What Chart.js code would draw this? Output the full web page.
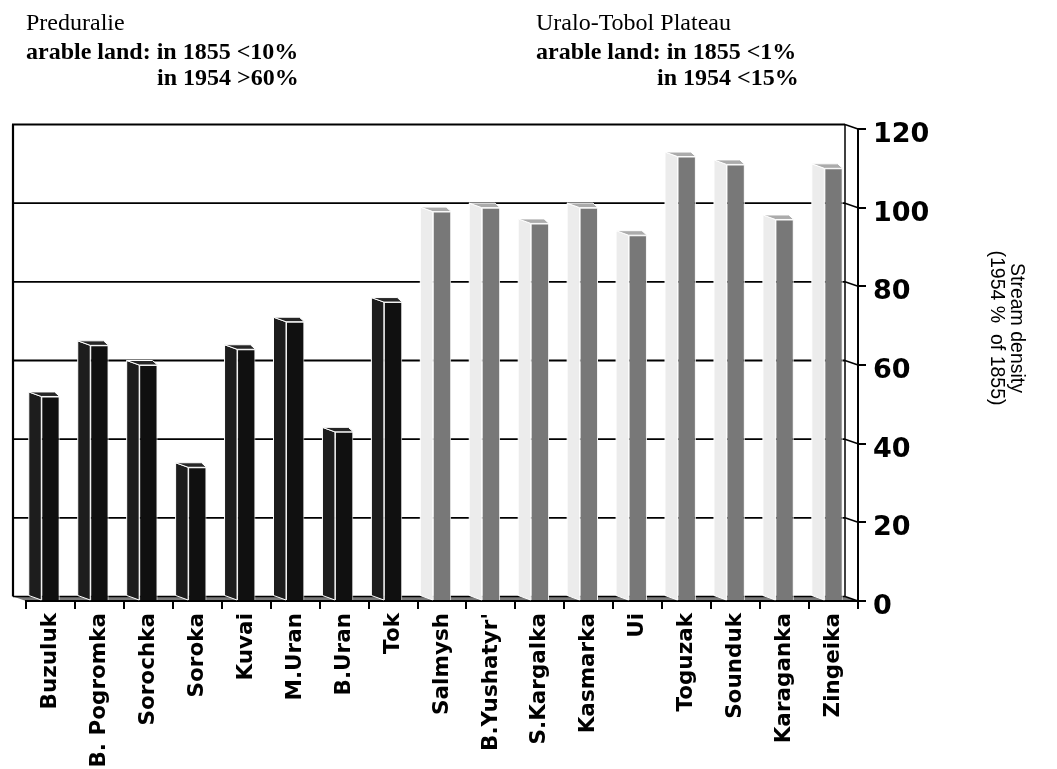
<!DOCTYPE html>
<html>
<head>
<meta charset="utf-8">
<script src="https://cdn.jsdelivr.net/npm/chart.js@4.4.1/dist/chart.umd.min.js"></script>
<style>
  html, body { margin: 0; padding: 0; background: #ffffff; }
  #wrap { width: 1057px; height: 769px; }
</style>
</head>
<body>
<div id="wrap"><canvas id="chart" width="1057" height="769"></canvas></div>
<script>
// Stream density in 1954 as % of 1855
const preduralieRivers = ['Buzuluk', 'B. Pogromka', 'Sorochka', 'Soroka', 'Kuvai', 'M.Uran', 'B.Uran', 'Tok'];
const preduralieDensity = [52, 65, 60, 34, 64, 71, 43, 76];
const uraloTobolRivers = ['Salmysh', "B.Yushatyr'", 'S.Kargalka', 'Kasmarka', 'Ui', 'Toguzak', 'Sounduk', 'Karaganka', 'Zingeika'];
const uraloTobolDensity = [99, 100, 96, 100, 93, 113, 111, 97, 110];
const yTickValues = [0, 20, 40, 60, 80, 100, 120];
const yTickLabels = ['0', '20', '40', '60', '80', '100', '120'];

const rivers = preduralieRivers.concat(uraloTobolRivers);
const preduralieSeries = preduralieDensity.concat(uraloTobolRivers.map(() => null));
const uraloTobolSeries = preduralieRivers.map(() => null).concat(uraloTobolDensity);

// pseudo-3D geometry: back wall sits up-left of the front plane
const WALL_DX = 13, WALL_DY = 4.5;
const SIDE_DX = 12.5, SIDE_DY = 4.5, TOP_BACK_RIGHT = 5;

const faceStyles = [
  { front: '#101010', side: '#1d1d1d', top: '#262626', edge: '#ffffff' },
  { front: '#787878', side: '#ececec', top: '#ababab', edge: '#ffffff' }
];

function strokeLine(ctx, x0, y0, x1, y1) {
  ctx.beginPath(); ctx.moveTo(x0, y0); ctx.lineTo(x1, y1); ctx.stroke();
}
function polygon(ctx, pts) {
  ctx.beginPath();
  ctx.moveTo(pts[0][0], pts[0][1]);
  for (let i = 1; i < pts.length; i++) ctx.lineTo(pts[i][0], pts[i][1]);
  ctx.closePath();
}

const depthPlugin = {
  id: 'depth',
  beforeDraw(chart) {
    const { ctx, chartArea: a, scales: { y } } = chart;
    const bx0 = a.left - WALL_DX, bx1 = a.right - WALL_DX;
    const by0 = a.top - WALL_DY, by1 = a.bottom - WALL_DY;
    ctx.save();
    // floor strip
    ctx.fillStyle = '#7a7a7a';
    polygon(ctx, [[bx0, by1], [bx1, by1], [a.right, a.bottom], [a.left, a.bottom]]);
    ctx.fill();
    // gridlines on the back wall
    ctx.strokeStyle = '#000000';
    ctx.lineWidth = 1.8;
    yTickValues.forEach(v => {
      if (v === y.min || v === y.max) return;
      const py = y.getPixelForValue(v) - WALL_DY;
      strokeLine(ctx, bx0, py, bx1, py);
    });
    // wall frame
    ctx.lineWidth = 2.2;
    strokeLine(ctx, bx0 - 1, by0, bx1, by0);
    strokeLine(ctx, bx0, by0, bx0, by1);
    ctx.lineWidth = 1.5;
    strokeLine(ctx, bx1, by0, bx1, by1);
    strokeLine(ctx, bx0, by1, bx1, by1);
    // connectors from the wall edge to the front axis
    yTickValues.forEach(v => {
      const py = y.getPixelForValue(v);
      strokeLine(ctx, bx1, py - WALL_DY, a.right, py);
    });
    ctx.restore();
  },
  beforeDatasetsDraw(chart) {
    const ctx = chart.ctx;
    ctx.save();
    chart.data.datasets.forEach((ds, di) => {
      const meta = chart.getDatasetMeta(di);
      const st = faceStyles[di];
      meta.data.forEach((bar, i) => {
        if (ds.data[i] == null) return;
        const { x, y: top, base, width } = bar.getProps(['x', 'y', 'base', 'width'], true);
        const fl = x - width / 2, fr = x + width / 2;
        ctx.lineWidth = 1;
        ctx.strokeStyle = st.edge;
        // left side face
        ctx.fillStyle = st.side;
        polygon(ctx, [[fl, top], [fl - SIDE_DX, top - SIDE_DY], [fl - SIDE_DX, base - SIDE_DY], [fl, base]]);
        ctx.fill(); ctx.stroke();
        // top face
        ctx.fillStyle = st.top;
        polygon(ctx, [[fl, top], [fl - SIDE_DX, top - SIDE_DY], [fr - TOP_BACK_RIGHT, top - SIDE_DY], [fr, top]]);
        ctx.fill(); ctx.stroke();
      });
    });
    ctx.restore();
  },
  afterDraw(chart) {
    const ctx = chart.ctx;
    ctx.save();
    ctx.fillStyle = '#000000';
    ctx.textBaseline = 'alphabetic';
    ctx.textAlign = 'left';
    const serif = '"Liberation Serif", "Times New Roman", serif';
    const headers = [
      { x: 26, indent: 131, name: 'Preduralie', l2: 'in 1855 <10%', l3: 'in 1954 >60%' },
      { x: 536, indent: 121, name: 'Uralo-Tobol Plateau', l2: 'in 1855 <1%', l3: 'in 1954 <15%' }
    ];
    headers.forEach(h => {
      ctx.font = '24px ' + serif;
      ctx.fillText(h.name, h.x, 30);
      ctx.font = 'bold 24px ' + serif;
      ctx.fillText('arable land: ' + h.l2, h.x, 58.5);
      ctx.fillText(h.l3, h.x + h.indent, 85);
    });
    // axis title
    ctx.translate(1016, 328);
    ctx.rotate(Math.PI / 2);
    ctx.textAlign = 'center';
    ctx.textBaseline = 'middle';
    ctx.font = '19.5px "Liberation Sans", Arial, sans-serif';
    ctx.fillText('Stream density', 0, 0);
    ctx.fillText('(1954 %  of 1855)', 0, 20);
    ctx.restore();
  }
};

const labelFont = { family: '"DejaVu Sans", Verdana, sans-serif', weight: 'bold', size: 21.5 };
// an empty leading line with a short line height sets the value labels a little below their ticks
const tickFont = { family: '"DejaVu Sans", Verdana, sans-serif', weight: 'bold', size: 27, lineHeight: 0.44 };

new Chart(document.getElementById('chart'), {
  type: 'bar',
  data: {
    labels: rivers,
    datasets: [
      {
        label: 'Preduralie',
        data: preduralieSeries,
        backgroundColor: faceStyles[0].front,
        borderColor: '#f2f2f2',
        borderWidth: { top: 1, left: 1, right: 1, bottom: 0 },
        grouped: false,
        categoryPercentage: 1,
        barPercentage: 0.375
      },
      {
        label: 'Uralo-Tobol Plateau',
        data: uraloTobolSeries,
        backgroundColor: faceStyles[1].front,
        borderColor: '#f2f2f2',
        borderWidth: { top: 1, left: 1, right: 1, bottom: 0 },
        grouped: false,
        categoryPercentage: 1,
        barPercentage: 0.375
      }
    ]
  },
  options: {
    responsive: false,
    animation: false,
    devicePixelRatio: 1,
    layout: { padding: { left: 26, top: 129, right: 0, bottom: 0 } },
    plugins: { legend: { display: false }, tooltip: { enabled: false } },
    scales: {
      x: {
        type: 'category',
        offset: true,
        z: 1,
        grid: { offset: true, drawOnChartArea: false, drawTicks: true, tickLength: 8, color: '#000000', lineWidth: 2 },
        border: { display: true, color: '#000000', width: 2 },
        ticks: { autoSkip: false, minRotation: 90, maxRotation: 90, padding: 4, color: '#000000', font: labelFont },
        afterFit(s) { s.height = 168; s.paddingLeft = 0; s.paddingRight = 0; }
      },
      y: {
        position: 'right',
        min: 0,
        max: 120,
        z: 1,
        afterBuildTicks(s) { s.ticks = yTickValues.map(v => ({ value: v })); },
        grid: { drawOnChartArea: false, drawTicks: true, tickLength: 8, color: '#000000', lineWidth: 2 },
        border: { display: true, color: '#000000', width: 2 },
        ticks: { padding: 7, color: '#000000', font: tickFont, callback: (v, i) => ['', yTickLabels[i]] },
        afterFit(s) { s.width = 199; s.paddingTop = 0; s.paddingBottom = 0; }
      }
    }
  },
  plugins: [depthPlugin]
});
</script>
</body>
</html>
